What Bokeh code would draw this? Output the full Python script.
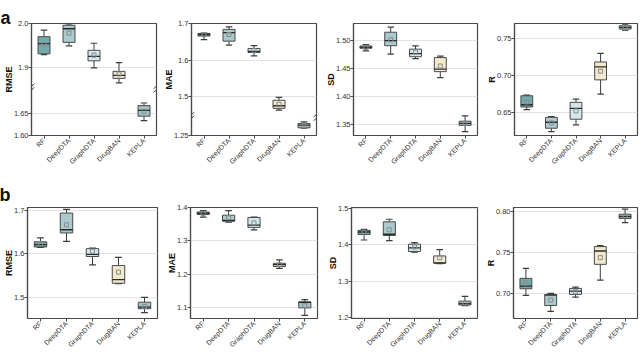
import math
from bokeh.plotting import figure
from bokeh.models import FixedTicker, Range1d, ColumnDataSource, Label
from bokeh.layouts import column, row
from bokeh.embed import file_html
from bokeh.resources import INLINE

models = ["RF", "DeepDTA", "GraphDTA", "DrugBAN", "KEPLA"]
colors = ["#74AAAB", "#AACACE", "#D2E8EC", "#F1E9CE", "#A3C2C4"]

# ---------------- panel a ----------------
a_rmse_low = [1.929, 1.949, 1.899, 1.865, 1.634]
a_rmse_q1 = [1.931, 1.957, 1.915, 1.875, 1.644]
a_rmse_med = [1.954, 1.988, 1.925, 1.882, 1.657]
a_rmse_q3 = [1.970, 1.996, 1.939, 1.891, 1.668]
a_rmse_high = [1.985, 1.999, 1.955, 1.911, 1.674]
a_rmse_mean = [1.952, 1.978, 1.928, 1.885, 1.655]

a_mae_low = [1.656, 1.641, 1.612, 1.464, 1.270]
a_mae_q1 = [1.666, 1.652, 1.621, 1.469, 1.271]
a_mae_med = [1.670, 1.675, 1.624, 1.476, 1.278]
a_mae_q3 = [1.673, 1.684, 1.632, 1.491, 1.283]
a_mae_high = [1.674, 1.691, 1.640, 1.499, 1.287]
a_mae_mean = [1.669, 1.670, 1.626, 1.480, 1.277]

a_sd_low = [1.481, 1.475, 1.467, 1.4335, 1.3376]
a_sd_q1 = [1.4855, 1.490, 1.4705, 1.444, 1.3486]
a_sd_med = [1.487, 1.499, 1.476, 1.4486, 1.352]
a_sd_q3 = [1.4896, 1.514, 1.484, 1.469, 1.356]
a_sd_high = [1.492, 1.523, 1.4896, 1.4717, 1.3653]
a_sd_mean = [1.487, 1.5006, 1.4786, 1.454, 1.3525]

a_r_low = [0.6544, 0.6252, 0.6341, 0.6752, 0.7606]
a_r_q1 = [0.658, 0.6296, 0.6416, 0.6942, 0.762]
a_r_med = [0.661, 0.6376, 0.6562, 0.7115, 0.7642]
a_r_q3 = [0.673, 0.6442, 0.6642, 0.7181, 0.7664]
a_r_high = [0.6739, 0.6451, 0.6686, 0.7296, 0.7686]
a_r_mean = [0.6646, 0.6367, 0.6527, 0.7058, 0.7642]

# ---------------- panel b ----------------
b_rmse_low = [1.6146, 1.6281, 1.5742, 1.5315, 1.4648]
b_rmse_q1 = [1.6154, 1.6476, 1.5936, 1.5322, 1.4738]
b_rmse_med = [1.6206, 1.655, 1.5985, 1.5404, 1.4775]
b_rmse_q3 = [1.6273, 1.6933, 1.6116, 1.5727, 1.4888]
b_rmse_high = [1.6363, 1.7015, 1.6131, 1.5914, 1.500]
b_rmse_mean = [1.6236, 1.6663, 1.6056, 1.5577, 1.479]

b_mae_low = [1.3712, 1.3559, 1.3329, 1.2178, 1.0778]
b_mae_q1 = [1.3789, 1.3588, 1.3406, 1.2236, 1.100]
b_mae_med = [1.3827, 1.3616, 1.3473, 1.2293, 1.1162]
b_mae_q3 = [1.3866, 1.377, 1.3703, 1.2332, 1.1181]
b_mae_high = [1.3904, 1.3904, 1.3712, 1.2437, 1.1248]
b_mae_mean = [1.3827, 1.3693, 1.354, 1.2293, 1.1066]

b_sd_low = [1.4128, 1.4111, 1.3797, 1.3480, 1.2332]
b_sd_q1 = [1.4276, 1.425, 1.3814, 1.3492, 1.235]
b_sd_med = [1.4346, 1.4285, 1.391, 1.350, 1.2385]
b_sd_q3 = [1.439, 1.4625, 1.4015, 1.3692, 1.2455]
b_sd_high = [1.4416, 1.4695, 1.4058, 1.3867, 1.2585]
b_sd_mean = [1.4346, 1.4407, 1.3936, 1.364, 1.2402]

b_r_low = [0.698, 0.6784, 0.6959, 0.7167, 0.7869]
b_r_q1 = [0.7061, 0.6857, 0.6992, 0.7359, 0.7918]
b_r_med = [0.7094, 0.6984, 0.7033, 0.7522, 0.7943]
b_r_q3 = [0.7188, 0.6992, 0.7065, 0.7576, 0.7971]
b_r_high = [0.731, 0.7004, 0.7082, 0.7588, 0.8033]
b_r_mean = [0.7131, 0.6922, 0.7024, 0.7441, 0.7951]

# axis ticks / labels
a_rmse_ticks = [1.60, 1.65, 1.9, 2.0]
a_rmse_tick_labels = ["1.60", "1.65", "1.9", "2.0"]
a_mae_ticks = [1.25, 1.5, 1.6, 1.7]
a_mae_tick_labels = ["1.25", "1.5", "1.6", "1.7"]
a_sd_ticks = [1.35, 1.40, 1.45, 1.50]
a_sd_tick_labels = ["1.35", "1.40", "1.45", "1.50"]
a_r_ticks = [0.65, 0.70, 0.75]
a_r_tick_labels = ["0.65", "0.70", "0.75"]
b_rmse_ticks = [1.5, 1.6, 1.7]
b_rmse_tick_labels = ["1.5", "1.6", "1.7"]
b_mae_ticks = [1.1, 1.2, 1.3, 1.4]
b_mae_tick_labels = ["1.1", "1.2", "1.3", "1.4"]
b_sd_ticks = [1.2, 1.3, 1.4, 1.5]
b_sd_tick_labels = ["1.2", "1.3", "1.4", "1.5"]
b_r_ticks = [0.70, 0.75, 0.80]
b_r_tick_labels = ["0.70", "0.75", "0.80"]

FONT = "Liberation Sans"
FIG_W = 160


def make_panel(ylabel, low, q1, med, q3, high, mean, ylim, ticks, tick_labels,
               brk, borders, height):
    bl, br, bt, bb = borders
    frame_w = FIG_W - bl - br
    frame_h = height - bt - bb

    def tf(v):
        if brk is None:
            return v
        lo, hi = brk
        return round(v - (hi - lo), 6) if v >= hi else v

    y0, y1 = tf(ylim[0]), tf(ylim[1])
    p = figure(width=FIG_W, height=height, output_backend="svg", toolbar_location=None,
               x_range=Range1d(-0.5, 4.5), y_range=Range1d(y0, y1),
               min_border_left=bl, min_border_right=br,
               min_border_top=bt, min_border_bottom=bb)
    p.background_fill_color = "white"
    p.border_fill_color = "white"
    p.outline_line_color = "#4a4a4a"
    p.outline_line_width = 1.2

    xs = list(range(len(models)))
    src = ColumnDataSource(dict(
        x=xs,
        cap_l=[x - 0.13 for x in xs], cap_r=[x + 0.13 for x in xs],
        med_l=[x - 0.24 for x in xs], med_r=[x + 0.24 for x in xs],
        low=[tf(v) for v in low], q1=[tf(v) for v in q1], med=[tf(v) for v in med],
        q3=[tf(v) for v in q3], high=[tf(v) for v in high], mean=[tf(v) for v in mean],
        color=colors,
    ))
    lc = "#3c3c3c"
    p.segment(x0="x", y0="low", x1="x", y1="q1", source=src, line_color=lc, line_width=1)
    p.segment(x0="x", y0="q3", x1="x", y1="high", source=src, line_color=lc, line_width=1)
    p.segment(x0="cap_l", y0="high", x1="cap_r", y1="high", source=src, line_color=lc, line_width=1.2)
    p.segment(x0="cap_l", y0="low", x1="cap_r", y1="low", source=src, line_color=lc, line_width=1.2)
    p.vbar(x="x", width=0.48, bottom="q1", top="q3", source=src,
           fill_color="color", line_color="#4a4a4a", line_width=1)
    p.segment(x0="med_l", y0="med", x1="med_r", y1="med", source=src, line_color="#2a2a2a", line_width=1.3)
    p.scatter(x="x", y="mean", source=src, marker="square", size=4,
              fill_color=None, line_color="#8a8a8a", line_width=1)

    # axes
    tpos = [tf(t) for t in ticks]
    p.yaxis.ticker = FixedTicker(ticks=tpos)
    p.yaxis.major_label_overrides = {tp: lab for tp, lab in zip(tpos, tick_labels)}
    p.xaxis.ticker = FixedTicker(ticks=xs)
    p.xaxis.major_label_overrides = {x: m for x, m in zip(xs, models)}
    p.xaxis.major_label_orientation = math.pi / 4
    for ax in (p.xaxis, p.yaxis):
        ax.axis_line_color = "#4a4a4a"
        ax.axis_line_width = 1.2
        ax.major_tick_line_color = "#4a4a4a"
        ax.major_tick_out = 3
        ax.major_tick_in = 0
        ax.minor_tick_line_color = None
        ax.major_label_text_font = FONT
        ax.major_label_text_color = "#333333"
    p.xaxis.major_label_standoff = 1
    p.yaxis.major_label_standoff = 0
    p.xaxis.major_label_text_font_size = "7px"
    p.yaxis.major_label_text_font_size = "7.5px"
    p.yaxis.axis_label = ylabel
    p.yaxis.axis_label_text_font = FONT
    p.yaxis.axis_label_text_font_style = "bold"
    p.yaxis.axis_label_text_font_size = "9px"
    p.yaxis.axis_label_text_color = "#111111"
    p.yaxis.axis_label_standoff = -3
    p.xgrid.grid_line_color = None
    p.ygrid.grid_line_color = "#e2e2e2"
    p.ygrid.grid_line_width = 1.2

    if brk is not None:
        ux = 5.0 / frame_w            # data units per pixel (x)
        uy = (y1 - y0) / frame_h      # data units per pixel (y)
        bx0, by0, bx1, by1 = [], [], [], []
        for xe in (-0.5, 4.5):
            for off in (-1.8, 1.8):
                bx0.append(xe - 3 * ux)
                by0.append(brk[0] + (off - 2.5) * uy)
                bx1.append(xe + 3 * ux)
                by1.append(brk[0] + (off + 2.5) * uy)
        p.segment(x0=bx0, y0=by0, x1=bx1, y1=by1, line_color="#444444", line_width=1)
    return p


H1, H2 = 175, 178
p1 = make_panel("RMSE", a_rmse_low, a_rmse_q1, a_rmse_med, a_rmse_q3, a_rmse_high, a_rmse_mean,
                (1.60, 2.0), a_rmse_ticks, a_rmse_tick_labels, (1.708, 1.853), (29, 4, 23, 38), H1)
p2 = make_panel("MAE", a_mae_low, a_mae_q1, a_mae_med, a_mae_q3, a_mae_high, a_mae_mean,
                (1.25, 1.7), a_mae_ticks, a_mae_tick_labels, (1.302, 1.447), (29, 4, 23, 38), H1)
p3 = make_panel("SD", a_sd_low, a_sd_q1, a_sd_med, a_sd_q3, a_sd_high, a_sd_mean,
                (1.3306, 1.5295), a_sd_ticks, a_sd_tick_labels, None, (33, 3, 23, 38), H1)
p4 = make_panel("R", a_r_low, a_r_q1, a_r_med, a_r_q3, a_r_high, a_r_mean,
                (0.6199, 0.7695), a_r_ticks, a_r_tick_labels, None, (34, 3, 23, 40), H1)
p5 = make_panel("RMSE", b_rmse_low, b_rmse_q1, b_rmse_med, b_rmse_q3, b_rmse_high, b_rmse_mean,
                (1.4513, 1.706), b_rmse_ticks, b_rmse_tick_labels, None, (27, 3, 31, 34), H2)
p6 = make_panel("MAE", b_mae_low, b_mae_q1, b_mae_med, b_mae_q3, b_mae_high, b_mae_mean,
                (1.0683, 1.4), b_mae_ticks, b_mae_tick_labels, None, (30, 3, 29, 33), H2)
p7 = make_panel("SD", b_sd_low, b_sd_q1, b_sd_med, b_sd_q3, b_sd_high, b_sd_mean,
                (1.198, 1.5017), b_sd_ticks, b_sd_tick_labels, None, (31, 3, 28, 33), H2)
p8 = make_panel("R", b_r_low, b_r_q1, b_r_med, b_r_q3, b_r_high, b_r_mean,
                (0.6698, 0.8053), b_r_ticks, b_r_tick_labels, None, (33, 3, 32, 34), H2)

# panel letters (placed in the top side panel so they are not clipped to the frame)
p1.add_layout(Label(x=-31, y=6, x_units="screen", y_units="screen", text="a",
                    text_baseline="alphabetic",
                    text_font=FONT, text_font_size="18px", text_font_style="bold",
                    text_color="#111111"), "above")
p5.add_layout(Label(x=-28, y=13, x_units="screen", y_units="screen", text="b",
                    text_baseline="alphabetic",
                    text_font=FONT, text_font_size="18px", text_font_style="bold",
                    text_color="#111111"), "above")

layout = column(row(p1, p2, p3, p4), row(p5, p6, p7, p8))
open("out.html", "w").write(file_html(layout, INLINE))
